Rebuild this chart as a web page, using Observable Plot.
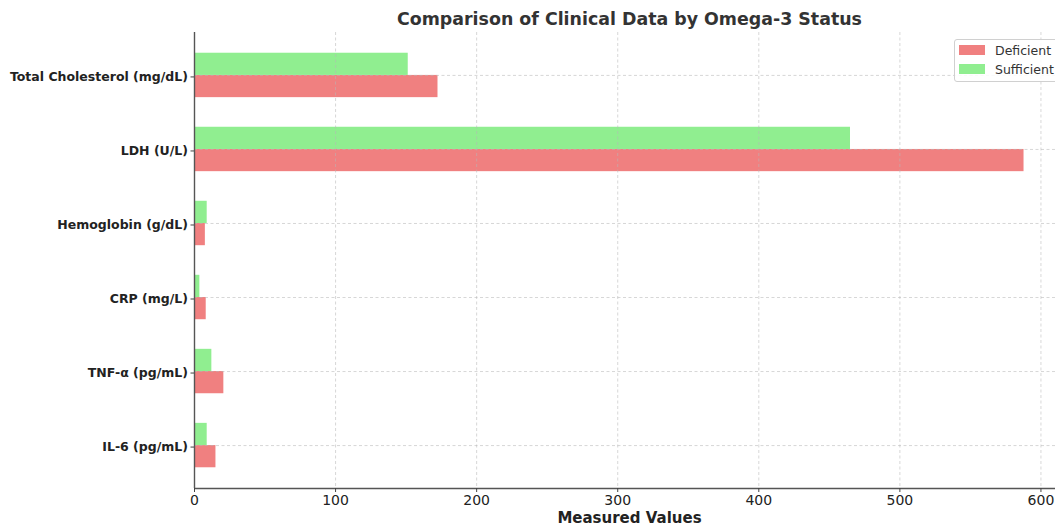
<!DOCTYPE html>
<html>
<head>
<meta charset="utf-8">
<script src="https://cdn.jsdelivr.net/npm/d3@7"></script>
<script src="https://cdn.jsdelivr.net/npm/@observablehq/plot@0.6"></script>
<style>
  html, body { margin: 0; padding: 0; background: #fff; overflow: hidden; }
  body { width: 1055px; height: 526px; position: relative; font-family: "DejaVu Sans", sans-serif; }
  #title { position: absolute; left: 194px; width: 871px; top: 8px; text-align: center; font-size: 17.4px; font-weight: bold; color: #333; line-height: 22px; }
  #xlabel { position: absolute; left: 194px; width: 871px; top: 509px; text-align: center; font-size: 15px; font-weight: bold; color: #222; line-height: 18px; }
  #legend { position: absolute; left: 954px; top: 39px; width: 130px; height: 41px; border: 1px solid #d0d0d0; border-radius: 3px; background: rgba(255,255,255,0.85); font-size: 12.5px; color: #333; }
  .item { position: absolute; left: 4px; height: 16px; display: flex; align-items: center; }
  .sw { width: 26px; height: 10px; margin-right: 10px; }
  #chart { position: absolute; left: 0; top: 0; }
</style>
</head>
<body>
<div id="chart"></div>
<div id="title"></div>
<div id="xlabel"></div>
<div id="legend"></div>
<script>
const categories = ["IL-6 (pg/mL)", "TNF-α (pg/mL)", "CRP (mg/L)", "Hemoglobin (g/dL)", "LDH (U/L)", "Total Cholesterol (mg/dL)"];
const deficient = [15.2, 20.8, 8.3, 7.7, 588, 172.6];
const sufficient = [9.0, 12.3, 3.8, 9.0, 465, 151.5];
const seriesNames = ["Deficient", "Sufficient"];
const seriesColors = ["#F08080", "#90EE90"];
const xTicks = [0, 100, 200, 300, 400, 500, 600];
const titleText = "Comparison of Clinical Data by Omega-3 Status";
const xLabelText = "Measured Values";

const idx = categories.map((c, i) => i);
const defRows = categories.map((c, i) => ({cat: c, i, value: deficient[i]}));
const sufRows = categories.map((c, i) => ({cat: c, i, value: sufficient[i]}));
const barH = 0.3;
const yMin = -0.58, yMax = 5.58;

const chart = Plot.plot({
  width: 1055,
  height: 526,
  marginLeft: 194,
  marginRight: 0,
  marginTop: 32,
  marginBottom: 38,
  style: {fontFamily: "DejaVu Sans, sans-serif", background: "transparent", overflow: "visible"},
  x: {domain: [0, 617.4], range: [194, 1065]},
  y: {domain: [yMin, yMax], range: [488, 32]},
  marks: [
    Plot.rectX(defRows, {x1: 0, x2: "value", y1: d => d.i - barH, y2: d => d.i, fill: seriesColors[0]}),
    Plot.rectX(sufRows, {x1: 0, x2: "value", y1: d => d.i, y2: d => d.i + barH, fill: seriesColors[1]}),
    Plot.ruleX(xTicks.slice(1), {stroke: "#b8b8b8", strokeDasharray: "3,2.5", strokeOpacity: 0.7, strokeWidth: 0.8}),
    Plot.ruleY(idx, {stroke: "#b8b8b8", strokeDasharray: "3,2.5", strokeOpacity: 0.7, strokeWidth: 0.8}),
    Plot.ruleX([0], {stroke: "#555", strokeWidth: 1.4}),
    Plot.ruleY([yMin], {stroke: "#555", strokeWidth: 1.4}),
    Plot.axisX({ticks: xTicks, tickFormat: d => String(d), tickSize: 4, tickPadding: 3, label: null, fontSize: 14, fill: "#222", stroke: "#444"}),
    Plot.axisY({ticks: idx, tickFormat: i => categories[i], tickSize: 3.5, tickPadding: 3, label: null, fontSize: 12.5, fontWeight: "bold", fill: "#222", stroke: "#444", dy: 1.5})
  ]
});
document.getElementById("chart").appendChild(chart);
document.getElementById("title").textContent = titleText;
document.getElementById("xlabel").textContent = xLabelText;
const legend = document.getElementById("legend");
seriesNames.forEach((n, k) => {
  const it = document.createElement("div");
  it.className = "item";
  it.style.top = (2 + k * 19) + "px";
  const sw = document.createElement("div");
  sw.className = "sw";
  sw.style.background = seriesColors[k];
  const t = document.createElement("span");
  t.textContent = n;
  it.appendChild(sw); it.appendChild(t);
  legend.appendChild(it);
});
</script>
</body>
</html>
